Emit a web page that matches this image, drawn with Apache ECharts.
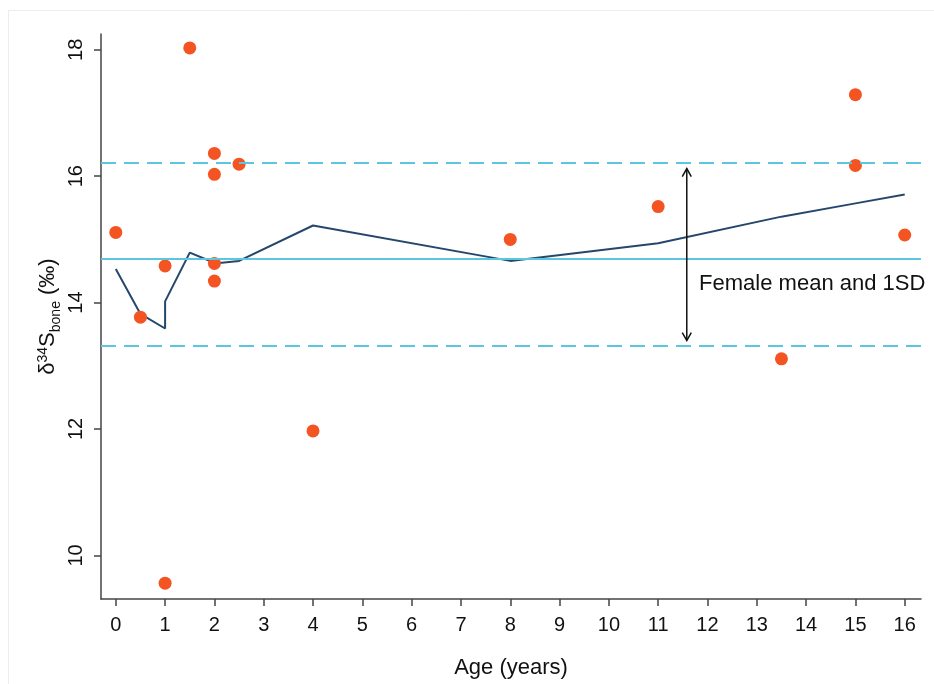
<!DOCTYPE html>
<html>
<head>
<meta charset="utf-8">
<script src="https://cdn.jsdelivr.net/npm/echarts@6/dist/echarts.min.js"></script>
<style>html,body{margin:0;padding:0;background:#fff;}#c{width:934px;height:684px;}</style>
</head>
<body>
<div id="c"></div>
<script>
// Observed data points (age, δ34S bone)
const pointAge = [0, 0.5, 1, 1, 1.5, 2, 2, 2, 2, 2.5, 4, 8, 11, 13.5, 15, 15, 16];
const pointS34 = [15.11, 13.77, 14.58, 9.56, 18.03, 16.36, 16.03, 14.62, 14.34, 16.19, 11.97, 15.0, 15.52, 13.11, 17.29, 16.17, 15.07];
// Smoothed trend line
const trendAge = [0, 0.5, 1, 1, 1.5, 2, 2, 2, 2.5, 4, 8, 11, 13.5, 15, 16];
const trendS34 = [14.53, 13.82, 13.59, 14.02, 14.79, 14.63, 14.54, 14.62, 14.66, 15.22, 14.66, 14.94, 15.36, 15.57, 15.71];
// Female reference
const femaleMean = 14.7;
const femaleUpper = 16.21;
const femaleLower = 13.32;
// Arrow annotation [x, yTop, yBottom]
const arrowSpan = [11.58, 16.12, 13.40];
const annotText = 'Female mean and 1SD';
const annotPos = [11.83, 14.29];
// Ticks
const xTicks = [0,1,2,3,4,5,6,7,8,9,10,11,12,13,14,15,16];
const yTicks = [10, 12, 14, 16, 18];

const FONT = '"Liberation Sans", Arial, Helvetica, sans-serif';
const chart = echarts.init(document.getElementById('c'), null, {renderer: 'canvas'});

const scatterData = pointAge.map((a, i) => [a, pointS34[i]]);
const trendData = trendAge.map((a, i) => [a, trendS34[i]]);

const option = {
  backgroundColor: '#fff',
  animation: false,
  textStyle: {fontFamily: FONT},
  graphic: [{
    type: 'rect', silent: true, z: -10,
    shape: {x: 8.5, y: 10.5, width: 940, height: 690},
    style: {fill: null, stroke: '#e7efef', lineWidth: 1}
  }],
  grid: {left: 101, right: 13, top: 34, bottom: 83.5, containLabel: false},
  xAxis: {
    type: 'value', min: -0.3, max: 16.33,
    name: 'Age (years)', nameLocation: 'middle', nameGap: 58,
    nameTextStyle: {fontSize: 22, color: '#111', fontFamily: FONT},
    axisLine: {show: true, onZero: false, lineStyle: {color: '#444', width: 1.5}},
    axisTick: {show: true, length: 7, lineStyle: {color: '#444', width: 1.5}, customValues: xTicks},
    axisLabel: {fontSize: 20, color: '#111', margin: 16, fontFamily: FONT, customValues: xTicks},
    splitLine: {show: false}
  },
  yAxis: {
    type: 'value', min: 9.31, max: 18.25,
    name: '{a|δ}{sup|34}{a|S}{sub|bone}{a| (‰)}', nameLocation: 'middle', nameGap: 38, nameRotate: 90,
    nameMoveOverlap: false,
    nameTextStyle: {
      color: '#111', fontFamily: FONT,
      rich: {
        a: {fontSize: 22, lineHeight: 30, verticalAlign: 'middle', fontFamily: FONT, color: '#111'},
        sup: {fontSize: 14, lineHeight: 14, verticalAlign: 'top', padding: [3,0,0,0], fontFamily: FONT, color: '#111'},
        sub: {fontSize: 14, lineHeight: 14, verticalAlign: 'bottom', padding: [0,0,0,0], fontFamily: FONT, color: '#111'}
      }
    },
    axisLine: {show: true, onZero: false, lineStyle: {color: '#444', width: 1.5}},
    axisTick: {show: true, length: 7, lineStyle: {color: '#444', width: 1.5}, customValues: yTicks},
    axisLabel: {fontSize: 20, color: '#111', margin: 15, rotate: 90, fontFamily: FONT, customValues: yTicks},
    splitLine: {show: false}
  },
  series: [
    {
      type: 'line', data: trendData, showSymbol: false, symbol: 'none',
      lineStyle: {color: '#24476b', width: 2}, z: 3, silent: true,
      markLine: {
        silent: true, symbol: ['none', 'none'], label: {show: false},
        data: [
          {yAxis: femaleMean, lineStyle: {color: '#5cc6e0', width: 2, type: 'solid'}},
          {yAxis: femaleUpper, lineStyle: {color: '#5cc6e0', width: 2, type: [15, 8]}},
          {yAxis: femaleLower, lineStyle: {color: '#5cc6e0', width: 2, type: [15, 8]}}
        ]
      }
    },
    {
      type: 'scatter', data: scatterData, symbol: 'circle', symbolSize: 13,
      itemStyle: {color: '#f35422', opacity: 1}, z: 4, silent: true
    },
    {
      type: 'custom', z: 5, silent: true,
      data: [arrowSpan],
      renderItem: function (params, api) {
        const top = api.coord([api.value(0), api.value(1)]);
        const bot = api.coord([api.value(0), api.value(2)]);
        const h = 8, w = 4.5;
        const st = {stroke: '#111', fill: null, lineWidth: 1.5};
        return {type: 'group', children: [
          {type: 'line', shape: {x1: top[0], y1: top[1], x2: bot[0], y2: bot[1]}, style: st},
          {type: 'polyline', shape: {points: [[top[0]-w, top[1]+h],[top[0], top[1]],[top[0]+w, top[1]+h]]}, style: st},
          {type: 'polyline', shape: {points: [[bot[0]-w, bot[1]-h],[bot[0], bot[1]],[bot[0]+w, bot[1]-h]]}, style: st}
        ]};
      }
    },
    {
      type: 'custom', z: 5, silent: true,
      data: [annotPos],
      renderItem: function (params, api) {
        const p = api.coord([api.value(0), api.value(1)]);
        return {type: 'text', x: p[0], y: p[1], style: {
          text: annotText, fill: '#111', font: '22px ' + FONT,
          textAlign: 'left', textVerticalAlign: 'middle'
        }};
      }
    }
  ]
};
chart.setOption(option);
</script>
</body>
</html>
